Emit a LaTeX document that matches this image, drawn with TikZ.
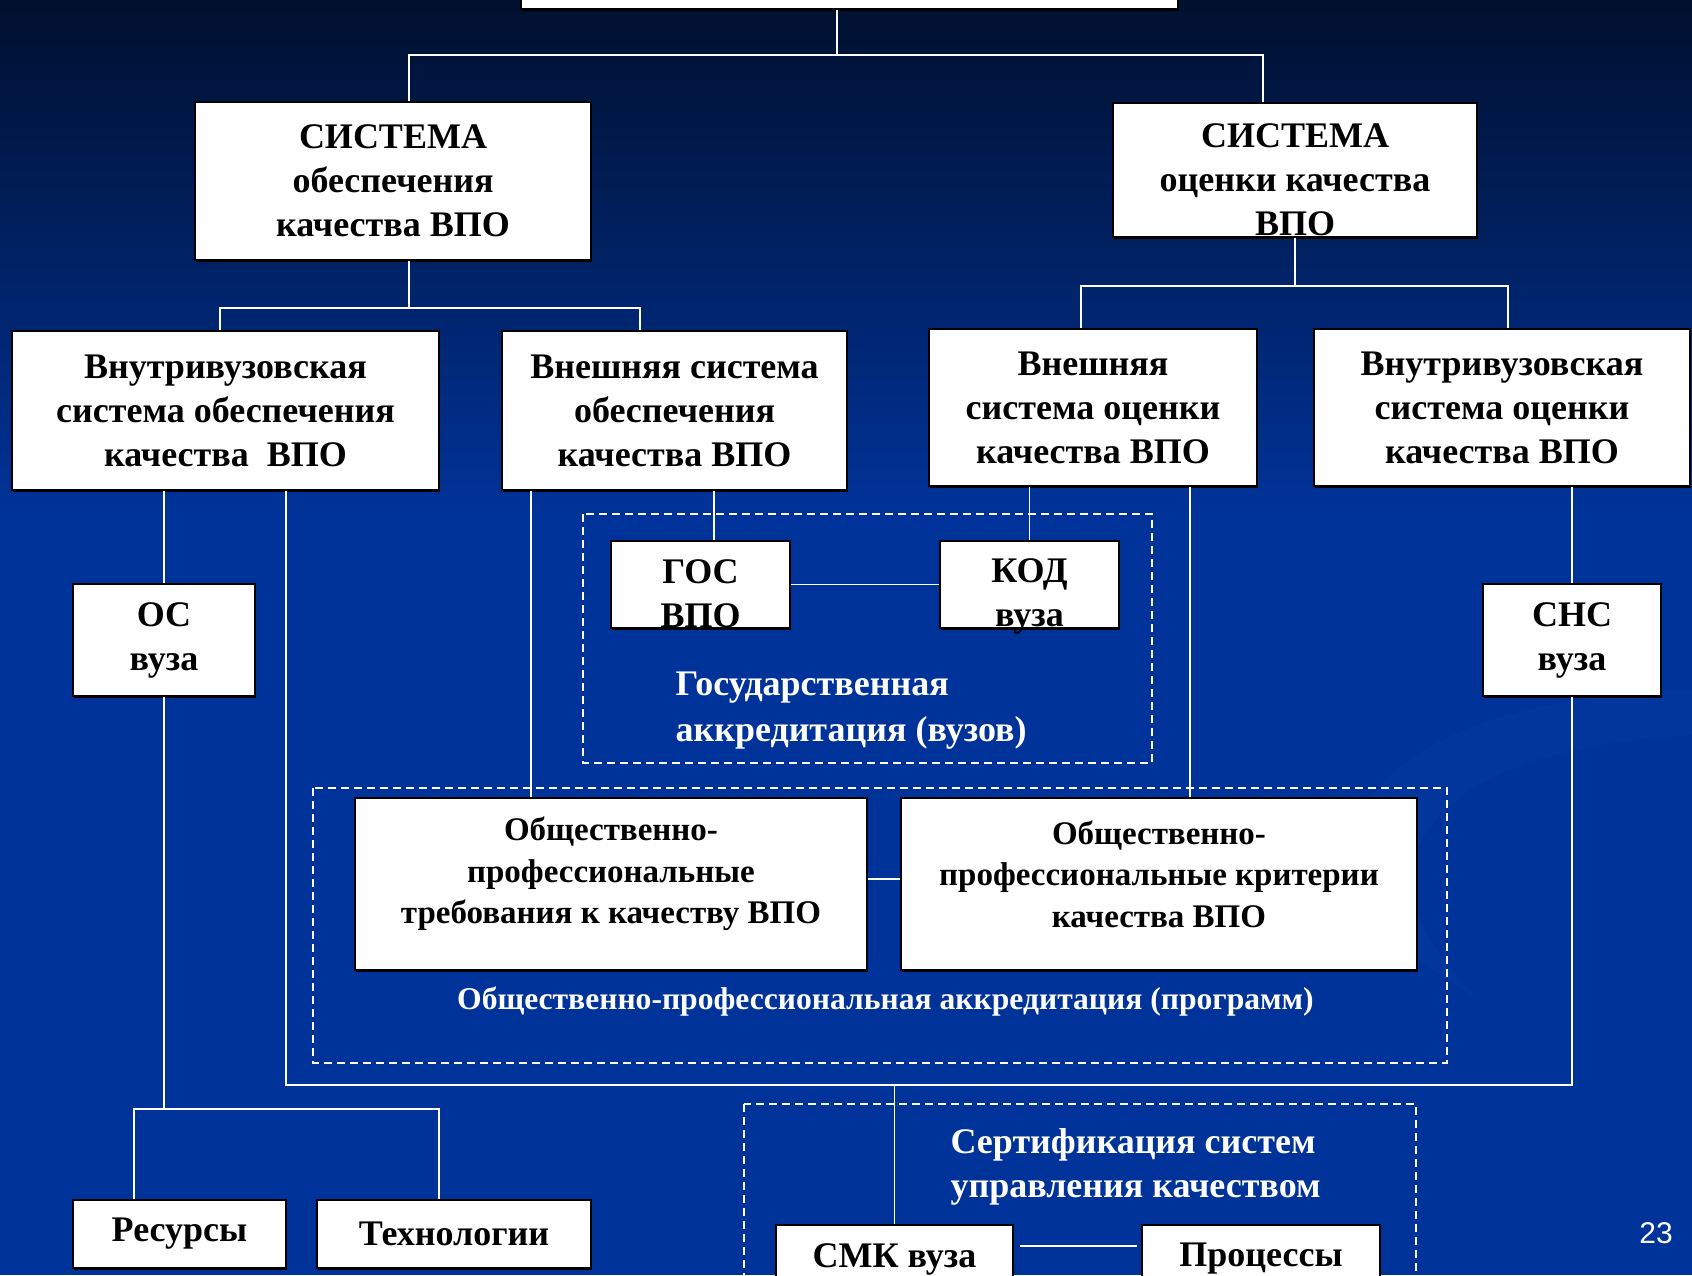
\documentclass[tikz,border=0pt]{standalone}
\usepackage{fontspec}
\setmainfont{Liberation Serif}
\newfontfamily\numfont{Liberation Sans}
\usetikzlibrary{positioning, shadows}
\definecolor{bgtop}{HTML}{00102E}
\definecolor{bgbot}{HTML}{00339A}
\definecolor{swoosh}{HTML}{1A4AAE}
\newcommand{\boxfont}{\bfseries\fontsize{36}{44}\selectfont}
\newcommand{\obfont}{\bfseries\fontsize{33}{41.5}\selectfont}
\tikzset{
    box/.style={draw=black, line width=1.4pt, fill=white, align=center, inner sep=0pt, font=\boxfont, text=black,
        drop shadow={shadow xshift=1pt, shadow yshift=-2pt, fill=black, opacity=1}}, % white boxes
    btxt/.style={align=center, font=\boxfont, text=black}, % text moved inside a box
    link/.style={draw=white, line width=1.8pt}, % white connectors
    frame/.style={draw=white, line width=1.8pt, dash pattern=on 8pt off 5pt}, % dashed groups
    note/.style={text=white, align=left, font=\bfseries\fontsize{36}{46}\selectfont},
}

\begin{document}
\begin{tikzpicture}[x=1pt, y=-1pt]
    \useasboundingbox (0,0) rectangle (1692,1275);
    \clip (0,0) rectangle (1692,1275);
    \shade[top color=bgtop, bottom color=bgbot] (0,0) rectangle (1692,520);
    \fill[bgbot] (0,519) rectangle (1692,1275);
    \fill[swoosh, opacity=0.15] (1692,690) .. controls (1330,700) and (1260,880) .. (1480,1000)
        .. controls (1340,870) and (1420,750) .. (1692,735) -- cycle;

    % dashed groups
    \draw[frame] (583,514) rectangle (1152,763);
    \draw[frame] (313,788) rectangle (1447,1063);
    \draw[frame] (744,1104) rectangle (1416,1300);

    \node[box, minimum width=657pt, minimum height=60pt] (top) at (849.5,-21) {};

    \node[box, minimum width=396pt, minimum height=158pt] (sysObesp) at (393,181) {СИСТЕМА\\обеспечения\\качества ВПО};
    \node[box, minimum width=364pt, minimum height=134pt,
        label={[btxt, yshift=-10pt]center:{СИСТЕМА\\оценки качества\\ВПО}}] (sysOcen) at (1295,170) {};

    \node[box, minimum width=427pt, minimum height=159pt] (vnutObesp) at (225.5,410.5) {Внутривузовская\\система обеспечения\\качества\enspace ВПО};
    \node[box, minimum width=345pt, minimum height=159pt] (vneshObesp) at (674.5,410.5) {Внешняя система\\обеспечения\\качества ВПО};
    \node[box, minimum width=328pt, minimum height=157pt] (vneshOcen) at (1093,407.5) {Внешняя\\система оценки\\качества ВПО};
    \node[box, minimum width=376pt, minimum height=157pt] (vnutOcen) at (1502,407.5) {Внутривузовская\\система оценки\\качества ВПО};

    \node[box, minimum width=179pt, minimum height=87pt,
        label={[btxt, yshift=-9pt]center:{ГОС\\ВПО}}] (gos) at (700.5,584.5) {};
    \node[box, minimum width=179pt, minimum height=87pt,
        label={[btxt, yshift=-12pt]center:{КОД\\вуза}}] (kod) at (1029.5,584.5) {};
    \node[note, anchor=west] (gosLbl) at (672,711) {Государственная\\аккредитация (вузов)};

    \node[box, minimum width=182pt, minimum height=112pt] (osVuza) at (164,640) {ОС\\вуза};
    \node[box, minimum width=178pt, minimum height=112pt] (snsVuza) at (1572,640) {СНС\\вуза};

    \node[box, minimum width=512pt, minimum height=172pt,
        label={[btxt, font=\obfont, yshift=10pt]center:{Общественно-\\профессиональные\\требования к качеству ВПО}}] (obTreb) at (611,884) {};
    \node[box, minimum width=516pt, minimum height=172pt,
        label={[btxt, font=\obfont, yshift=10pt]center:{Общественно-\\профессиональные критерии\\качества ВПО}}] (obKrit) at (1159,884) {};
    \node[note, font=\bfseries\fontsize{31.6}{36}\selectfont] (opLbl) at (885.5,1002) {Общественно-профессиональная аккредитация (программ)};

    \node[box, minimum width=213pt, minimum height=68pt] (res) at (179.5,1234) {Ресурсы};
    \node[box, minimum width=274pt, minimum height=68pt] (tech) at (454,1234) {Технологии};

    \node[note, anchor=west, font=\bfseries\fontsize{36}{44}\selectfont] (certLbl) at (947,1167) {Сертификация систем\\управления качеством};
    \node[box, minimum width=237pt, minimum height=68pt] (smk) at (894.5,1259) {СМК вуза};
    \node[box, minimum width=238pt, minimum height=68pt] (proc) at (1261,1259) {Процессы};

    \node[text=white, font=\numfont\fontsize{30}{36}\selectfont] (pageNo) at (1656,1233) {23};

    % tree
    \draw[link] ([xshift=-12.5pt]top.south) -- ++(0,45) coordinate (jTop);
    \draw[link] ([xshift=16pt]sysObesp.north) |- (jTop) -| ([xshift=-32pt]sysOcen.north);
    \draw[link] ([xshift=16pt]sysObesp.south) -- ++(0,47) coordinate (jL);
    \draw[link] ([xshift=-5.5pt]vnutObesp.north) |- (jL) -| ([xshift=-34.5pt]vneshObesp.north);
    \draw[link] (sysOcen.south) -- ++(0,48) coordinate (jR);
    \draw[link] ([xshift=-12pt]vneshOcen.north) |- (jR) -| ([xshift=6pt]vnutOcen.north);

    \draw[link] ([xshift=13.5pt]gos.north) -- ([xshift=13.5pt]gos.north |- vneshObesp.south);
    \draw[link] (kod.north) -- (kod.north |- vneshOcen.south);
    \draw[link] (gos) -- (kod);

    \draw[link] ([xshift=-80pt]obTreb.north) -- ([xshift=-80pt]obTreb.north |- vneshObesp.south);
    \draw[link] ([xshift=31pt]obKrit.north) -- ([xshift=31pt]obKrit.north |- vneshOcen.south);
    \draw[link] ([yshift=5pt]obTreb.east) -- ([yshift=5pt]obKrit.west);

    \draw[link] (osVuza.north) -- (osVuza.north |- vnutObesp.south);
    \draw[link] (osVuza.south) -- ++(0,412) coordinate (jOs);
    \draw[link] ([xshift=-45.5pt]res.north) |- (jOs) -| ([xshift=-15pt]tech.north);

    \draw[link] (snsVuza.north) -- (snsVuza.north |- vnutOcen.south);
    \coordinate (jLoop) at (894.5,1085);
    \draw[link] ([xshift=60.5pt]vnutObesp.south) |- (jLoop) -| (snsVuza.south);
    \draw[link] (jLoop) -- (smk.north);
    \draw[link, shorten <=6pt, shorten >=4pt] ([yshift=13pt]smk.east) -- ([yshift=13pt]proc.west);
\end{tikzpicture}
\end{document}
